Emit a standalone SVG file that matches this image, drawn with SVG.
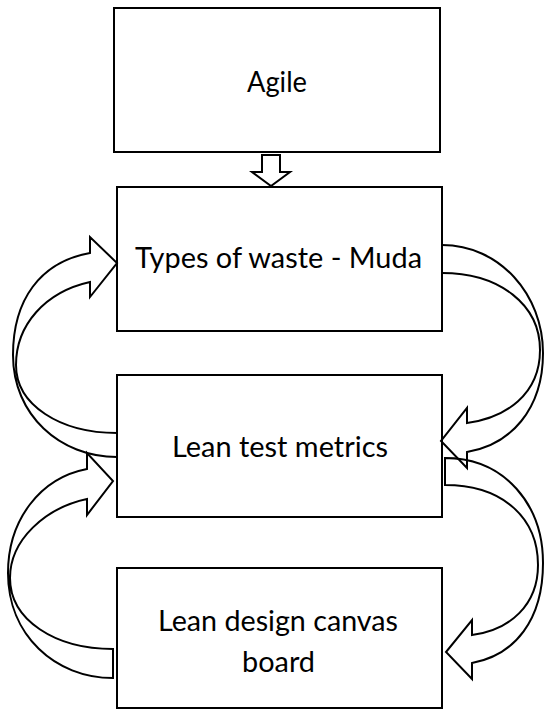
<svg xmlns="http://www.w3.org/2000/svg" width="545" height="711" viewBox="0 0 545 711">
<style>
.box{fill:#fff;stroke:#000;stroke-width:2}
.lbl{font-family:Lato,"Open Sans","Noto Sans",sans-serif;font-size:29px;fill:#000;text-anchor:middle}
.arr{fill:none;stroke:#000;stroke-width:2;stroke-linejoin:miter}
</style>
<rect width="545" height="711" fill="#fff"/>
<g id="node-agile">
<rect class="box" x="114" y="8" width="326" height="144"/>
<text class="lbl" x="277" y="92" textLength="60" lengthAdjust="spacingAndGlyphs">Agile</text>
</g>
<g id="node-muda">
<rect class="box" x="117" y="187" width="325" height="144"/>
<text class="lbl" x="278.5" y="268" textLength="287" lengthAdjust="spacingAndGlyphs">Types of waste - Muda</text>
</g>
<g id="node-metrics">
<rect class="box" x="117" y="375" width="325" height="142"/>
<text class="lbl" x="280" y="457" textLength="216" lengthAdjust="spacingAndGlyphs">Lean test metrics</text>
</g>
<g id="node-canvas">
<rect class="box" x="117" y="568" width="325" height="140"/>
<text class="lbl" x="278" y="631" textLength="240" lengthAdjust="spacingAndGlyphs">Lean design canvas</text>
<text class="lbl" x="278.5" y="672" textLength="73" lengthAdjust="spacingAndGlyphs">board</text>
</g>
<g id="connectors">
<path class="arr" style="fill:#fff" d="M262 155 H280 V172 H290 L271 186 L252 172 H262 Z"/>
<path class="arr" d="M117 433 C60 433 16 405 16 365 C16 325 45 292 90 282 V297 L117 263 L90 237 V253 C40 262 13 300 13 355 C13 415 60 457 117 457"/>
<path class="arr" d="M113 649 C55 649 10 620 10 578 C10 540 45 508 87 499 V515 L113 481 L87 453 V469 C40 478 8 520 8 573 C8 635 55 678 113 678 Z"/>
<path class="arr" d="M442 273 C500 273 540 305 540 350 C540 395 505 418 467 423 V408 L441 441 L467 468 V452 C510 445 543 410 543 353 C543 295 500 245 442 245"/>
<path class="arr" d="M445 485 C505 485 538 520 538 565 C538 605 510 630 472 635 V620 L446 652 L472 679 V663 C515 655 543 620 543 563 C543 505 505 458 445 458 Z"/>
</g>
</svg>
